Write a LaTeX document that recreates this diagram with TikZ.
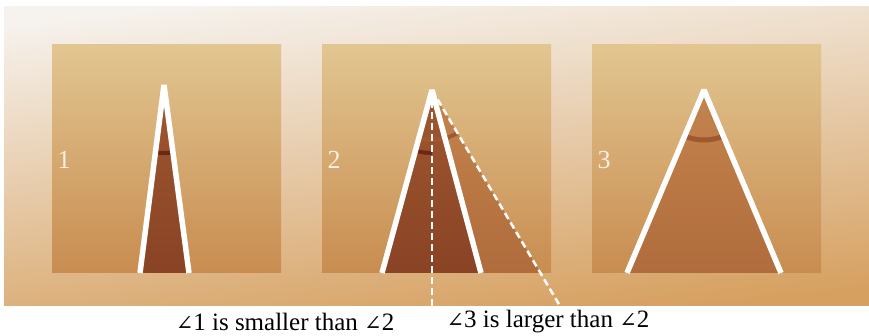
\documentclass[tikz,border=0pt]{standalone}
\usepackage{fontspec}
\setmainfont{Liberation Serif}
\newfontfamily\anglefont{DejaVu Serif}
\usepackage{tikz}
\usetikzlibrary{positioning}
\definecolor{sandLight}{RGB}{246,242,237}
\definecolor{sandMid}{RGB}{238,222,196}
\definecolor{sandDark}{RGB}{214,160,96}
\definecolor{panelTop}{RGB}{226,198,145}
\definecolor{panelBot}{RGB}{200,140,80}
\definecolor{woodDark}{RGB}{137,67,37}
\definecolor{woodDarkTop}{RGB}{160,88,48}
\definecolor{woodMid}{RGB}{176,108,60}
\definecolor{woodMidTop}{RGB}{196,132,78}
\definecolor{arcDark}{RGB}{108,40,22}
\definecolor{arcMid}{RGB}{160,88,48}
\definecolor{tagCream}{RGB}{249,240,226}
\newcommand{\ang}{{\anglefont\fontsize{21}{25}\selectfont ∠}}
\tikzstyle{panel} = [rectangle, minimum width=229pt, minimum height=228pt, inner sep=0pt, top color=panelTop, bottom color=panelBot]
\tikzstyle{side} = [draw=white, line width=5.5pt, line join=bevel]
\tikzstyle{guide} = [draw=white, line width=2.5pt, dash pattern=on 7pt off 4pt]
\tikzstyle{anglemark} = [line width=4pt]
\tikzstyle{tag} = [text=tagCream, font=\fontsize{26}{30}\selectfont, inner sep=0pt]
\tikzstyle{caption} = [font=\fontsize{25}{30}\selectfont, inner sep=0pt]

\begin{document}
\begin{tikzpicture}[x=1pt, y=1pt]
    \useasboundingbox (0,0) rectangle (869,336);
    % Background
    \shade[top color=sandLight, middle color=sandMid, bottom color=sandDark, shading angle=6] (4,30) rectangle (869,329);

    % Panels
    \node [panel] (panA) at (166.5,177) {};
    \node [panel] (panB) at (436.5,177) {};
    \node [panel] (panC) at (706.5,177) {};

    % Corner points
    \coordinate (topA) at (164,251);
    \coordinate (leftA) at (140,63);
    \coordinate (rightA) at (189,63);
    \coordinate (topB) at (432,246);
    \coordinate (leftB) at (382,63);
    \coordinate (rightB) at (481,63);
    \coordinate (wideB) at (540.4,63);
    \coordinate (downB) at (432,30);
    \coordinate (farB) at (560,30);
    \coordinate (topC) at (704,246);
    \coordinate (leftC) at (627,63);
    \coordinate (rightC) at (781,63);

    % Fills
    \shade [top color=woodDarkTop, bottom color=woodDark] (leftA) -- (topA) -- (rightA) -- cycle;
    \shade [top color=woodMidTop, bottom color=woodMid] (rightB) -- (topB) -- (wideB) -- cycle;
    \shade [top color=woodDarkTop, bottom color=woodDark] (leftB) -- (topB) -- (rightB) -- cycle;
    \shade [top color=woodMidTop, bottom color=woodMid] (leftC) -- (topC) -- (rightC) -- cycle;

    % Angle marks
    \draw [anglemark, arcDark] (topA) ++(263:68pt) arc [start angle=263, end angle=277, radius=68pt];
    \draw [anglemark, arcMid] (topB) ++(254.7:50pt) arc [start angle=254.7, end angle=300.6, radius=50pt];
    \draw [anglemark, arcDark] (topB) ++(254.7:63pt) arc [start angle=254.7, end angle=270, radius=63pt];
    \draw [anglemark, arcMid, line width=5pt] (topC) ++(247.2:50pt) arc [start angle=247.2, end angle=292.8, radius=50pt];

    % Sides
    \path [side] (leftA) -- (topA) -- (rightA);
    \path [side] (leftB) -- (topB) -- (rightB);
    \path [side] (leftC) -- (topC) -- (rightC);
    \path [guide] (topB) -- (downB);
    \path [guide] (topB) -- (farB);

    % Labels
    \node [tag] (numA) at (64,176) {1};
    \node [tag] (numB) at (334,176) {2};
    \node [tag] (numC) at (604,176) {3};
    \node [caption] (capA) at (285,14) {\ang1 is smaller than \ang2};
    \node [caption] (capB) at (548,14) {\ang3 is larger than \ang2};
\end{tikzpicture}
\end{document}
